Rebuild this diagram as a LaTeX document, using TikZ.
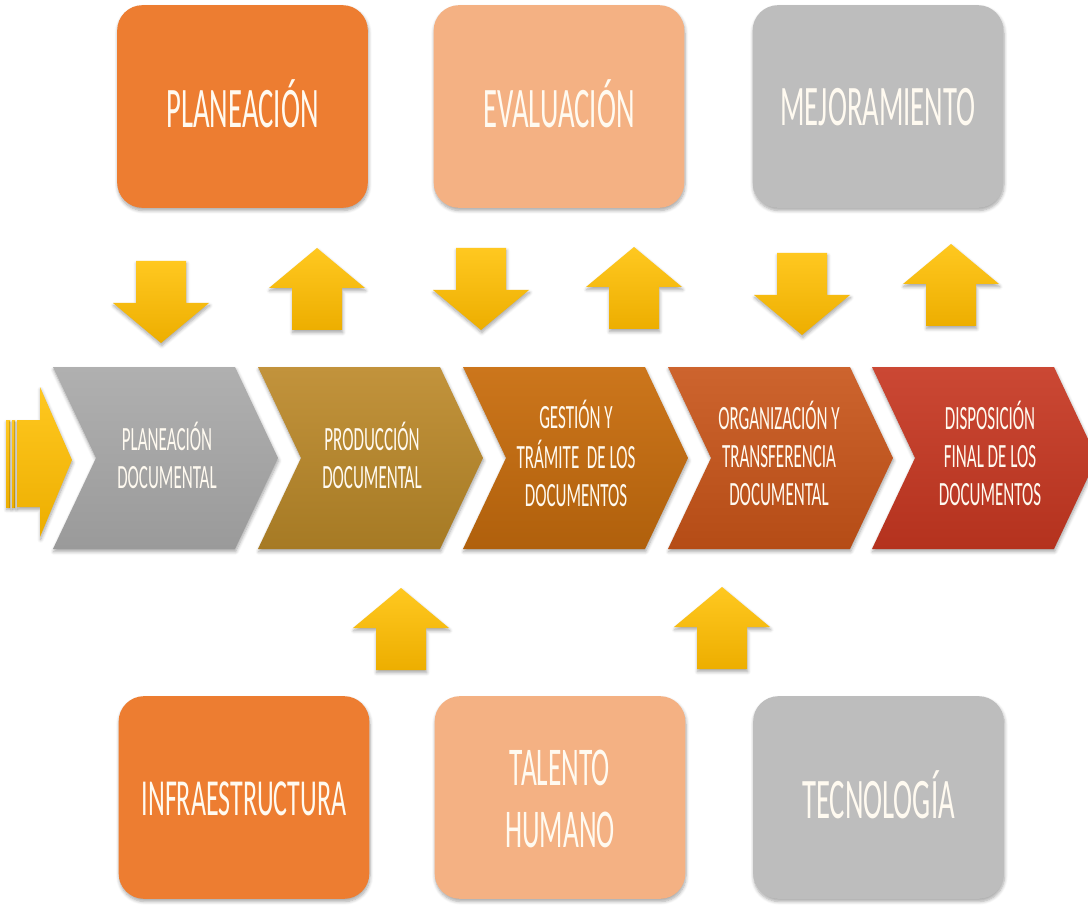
\documentclass[tikz,border=0pt]{standalone}
\usepackage{fontspec}
\setmainfont{Carlito}
\usepackage{graphicx}
\usetikzlibrary{shadows.blur}
\definecolor{orA}{HTML}{ED7D31}
\definecolor{peach}{HTML}{F4B183}
\definecolor{grayA}{HTML}{BDBDBD}
\definecolor{txtc}{HTML}{FFFAF0}
\definecolor{yelT}{HTML}{FFC820}
\definecolor{yelB}{HTML}{EDAE00}
\definecolor{c1T}{HTML}{B0B0B0}\definecolor{c1B}{HTML}{9A9A9A}
\definecolor{c2T}{HTML}{C2933C}\definecolor{c2B}{HTML}{A67A24}
\definecolor{c3T}{HTML}{CC761C}\definecolor{c3B}{HTML}{B0600C}
\definecolor{c4T}{HTML}{CD642E}\definecolor{c4B}{HTML}{B54C16}
\definecolor{c5T}{HTML}{CB4834}\definecolor{c5B}{HTML}{B4321E}
\newcommand{\ctext}[3]{\scalebox{0.5}[1]{\fontsize{#1}{#2}\selectfont\begin{tabular}{@{}c@{}}#3\end{tabular}}}
\newcommand{\btext}[3]{\raisebox{0pt}[\dimexpr\height+10pt\relax]{\ctext{#1}{#2}{#3}}}
\tikzset{
  shd/.style={blur shadow={shadow xshift=0.5pt, shadow yshift=-2pt, shadow blur radius=2.5pt, shadow blur steps=6, shadow opacity=35}},
  box/.style={rounded corners=19pt, minimum width=188pt, minimum height=152pt, inner sep=0pt, text=txtc, shd},
  lbl/.style={inner sep=0pt, text=txtc},
  yarrow/.style={top color=yelT, bottom color=yelB, shd},
  uparr/.pic={\path[yarrow] (0,0) -- (48,40) -- (25,40) -- (25,82) -- (-25,82) -- (-25,40) -- (-48,40) -- cycle;},
  downarr/.pic={\path[yarrow] (0,0) -- (48,-40) -- (25,-40) -- (25,-82) -- (-25,-82) -- (-25,-40) -- (-48,-40) -- cycle;},
}
\newcommand{\chevron}[3]{\path[shd, top color=#2, bottom color=#3] (#1,367) -- ++(182,0) -- ++(43,91) -- ++(-43,91) -- ++(-182,0) -- ++(43,-91) -- cycle;}
\begin{document}
\begin{tikzpicture}[x=0.75pt,y=-0.75pt]
\useasboundingbox (0,0) rectangle (1088,905);
\clip (0,0) rectangle (1088,905);

% top boxes
\node[box, fill=orA] (plan) at (242.5,106.5) {\btext{43pt}{48pt}{PLANEACIÓN}};
\node[box, fill=peach] (eval) at (559,106.5) {\btext{43pt}{48pt}{EVALUACIÓN}};
\node[box, fill=grayA] (mejo) at (878,106.5) {\btext{43pt}{48pt}{MEJORAMIENTO}};

% bottom boxes
\node[box, fill=orA] (infra) at (244,797.5) {\btext{39pt}{44pt}{INFRAESTRUCTURA}};
\node[box, fill=peach] (talento) at (560,797.5) {\btext{41pt}{46pt}{TALENTO\\HUMANO}};
\node[box, fill=grayA] (tecno) at (878.5,797.5) {\btext{43pt}{48pt}{TECNOLOGÍA}};

% left striped arrow
\path[yarrow] (6,420) rectangle (10,507);
\path[yarrow] (12,420) rectangle (15,507);
\path[yarrow] (17,420) -- (40,420) -- (40,387) -- (72,460) -- (40,537) -- (40,507) -- (17,507) -- cycle;

% chevrons
\chevron{53}{c1T}{c1B}
\chevron{258}{c2T}{c2B}
\chevron{463}{c3T}{c3B}
\chevron{668}{c4T}{c4B}
\chevron{872}{c5T}{c5B}
\node[lbl] (c1) at (167,461) {\ctext{25.5pt}{28.5pt}{PLANEACIÓN\\DOCUMENTAL}};
\node[lbl] (c2) at (372,461) {\ctext{25.5pt}{28.5pt}{PRODUCCIÓN\\DOCUMENTAL}};
\node[lbl] (c3) at (576,459) {\ctext{25.5pt}{28.5pt}{GESTIÓN Y\\TRÁMITE\ \ DE LOS\\DOCUMENTOS}};
\node[lbl] (c4) at (779,459) {\ctext{25.5pt}{28.5pt}{ORGANIZACIÓN Y\\TRANSFERENCIA\\DOCUMENTAL}};
\node[lbl] (c5) at (990,459) {\ctext{25.5pt}{28.5pt}{DISPOSICIÓN\\FINAL DE LOS\\DOCUMENTOS}};

% yellow arrows
\pic (d1) at (161,343) {downarr};
\pic (u1) at (317,248) {uparr};
\pic (d2) at (481,330) {downarr};
\pic (u2) at (634,247) {uparr};
\pic (d3) at (802,335) {downarr};
\pic (u3) at (951,244) {uparr};
\pic (b1) at (401,588) {uparr};
\pic (b2) at (722,587) {uparr};
\end{tikzpicture}
\end{document}
